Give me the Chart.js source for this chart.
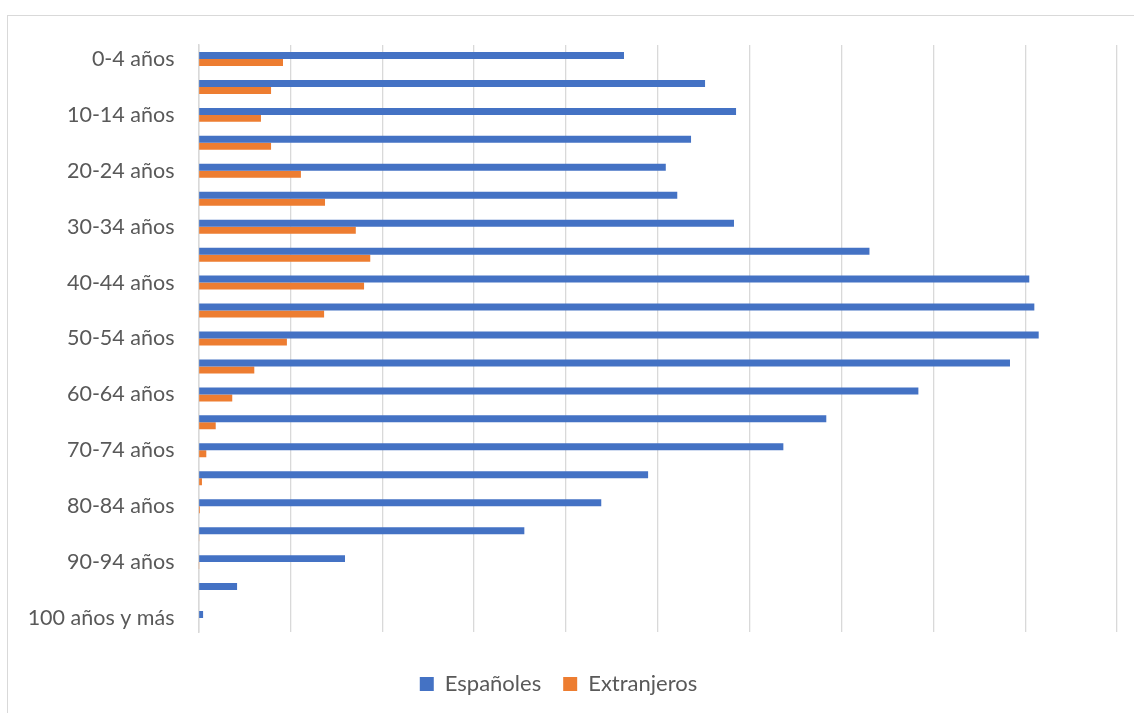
<!DOCTYPE html>
<html lang="es">
  <head>
    <meta charset="UTF-8" />
    <title>Población por edad</title>
    <script src="https://cdn.jsdelivr.net/npm/chart.js"></script>
    <style>
      html, body { margin: 0; padding: 0; background: #fff; overflow: hidden; }
      #frame { position: absolute; left: 7px; top: 15px; width: 1200px; height: 800px; border: 1px solid #d9d9d9; }
      #wrap { position: absolute; left: 0; top: 0; width: 1134px; height: 713px; }
    </style>
  </head>
  <body>
    <div id="frame"></div>
    <div id="wrap"><canvas id="popChart"></canvas></div>

    <script>
      // grupos de edad (de arriba abajo)
      var edades = [
        "0-4 años", "5-9 años", "10-14 años", "15-19 años", "20-24 años",
        "25-29 años", "30-34 años", "35-39 años", "40-44 años", "45-49 años",
        "50-54 años", "55-59 años", "60-64 años", "65-69 años", "70-74 años",
        "75-79 años", "80-84 años", "85-89 años", "90-94 años", "95-99 años",
        "100 años y más"
      ];
      var espanoles = [
        1853000, 2206000, 2341000, 2145000, 2035000,
        2085000, 2332000, 2922000, 3618000, 3640000,
        3659000, 3534000, 3135000, 2734000, 2547000,
        1958000, 1754000, 1419000, 638000, 168000,
        20000
      ];
      var extranjeros = [
        368000, 316000, 272000, 316000, 446000,
        551000, 685000, 748000, 721000, 547000,
        385000, 243000, 147000, 75000, 34000,
        15000, 6000, 2000, 1000, 0,
        0
      ];

      var fuente = "Lato, 'Open Sans', sans-serif";

      var ctx = document.getElementById("popChart").getContext("2d");
      var popChart = new Chart(ctx, {
        type: "bar",
        data: {
          labels: edades,
          datasets: [
            {
              label: "Españoles",
              data: espanoles,
              backgroundColor: "#4472C4",
              categoryPercentage: 0.5,
              barPercentage: 1.0,
            },
            {
              label: "Extranjeros",
              data: extranjeros,
              backgroundColor: "#ED7D31",
              categoryPercentage: 0.5,
              barPercentage: 1.0,
            },
          ],
        },
        options: {
          indexAxis: "y",
          responsive: true,
          maintainAspectRatio: false,
          animation: false,
          layout: { padding: { left: 0, top: 45, right: 17, bottom: 8 } },
          scales: {
            x: {
              min: 0,
              max: 4000000,
              ticks: { display: false, stepSize: 400000 },
              grid: { color: "#d9d9d9", lineWidth: 1.3, drawTicks: false },
              border: { display: false },
              afterFit: function (s) { s.height = 19; },
            },
            y: {
              grid: { display: false, drawTicks: false },
              border: { display: true, color: "#d9d9d9", width: 1.5 },
              ticks: {
                autoSkip: false,
                padding: 24,
                color: "#595959",
                font: { family: fuente, size: 21.5 },
                callback: function (v, i) { return i % 2 === 0 ? edades[i] : ""; },
              },
              afterFit: function (s) { s.width = 198.5; },
            },
          },
          plugins: {
            tooltip: { enabled: false },
            legend: {
              position: "bottom",
              labels: {
                boxWidth: 14,
                boxHeight: 14,
                padding: 22,
                color: "#595959",
                font: { family: fuente, size: 22 },
              },
            },
          },
        },
      });
    </script>
  </body>
</html>
